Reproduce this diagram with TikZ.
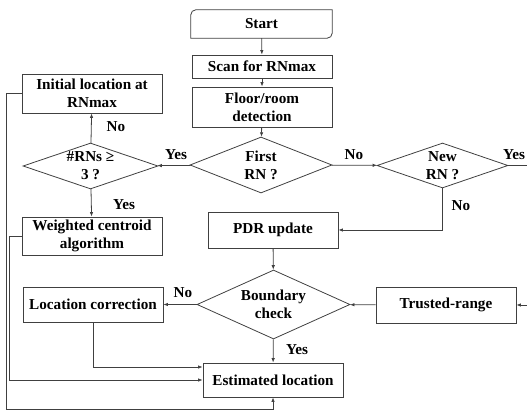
\documentclass[tikz,border=0pt]{standalone}
\usepackage{fontspec}
\setmainfont{Liberation Serif}
\usetikzlibrary{arrows.meta,shapes.geometric}

\begin{document}
\begin{tikzpicture}
	[x=1pt,y=-1pt,
	font=\fontsize{15.2}{18}\selectfont\bfseries,
	every node/.style={align=center,inner sep=0pt},
	line/.style={draw=black!75,line width=.8pt},
	box/.style={line,minimum width=140pt},
	dec/.style={line,diamond,aspect=2.5},
	arr/.style={line,-{Latex[length=4.5pt,width=3.5pt]}}]
	\useasboundingbox (0,0) rectangle (527,411);
	\node[minimum width=141pt,minimum height=28pt] (start) at (261.5,24) {Start};
	\node[box,minimum height=23pt] (scan) at (262,66.5) {Scan for RNmax};
	\node[box,minimum height=40pt] (floor) at (262,107) {Floor/room\\detection};
	\node[dec,minimum width=142pt,minimum height=56pt] (first) at (261,165) {First\\RN ?};
	\node[dec,minimum width=131pt,minimum height=45pt] (newrn) at (442.5,165.5) {New\\RN ?};
	\node[dec,minimum width=135pt,minimum height=46pt,aspect=3] (rns) at (90.5,166) {\#RNs ≥\\3 ?};
	\node[box,minimum height=39pt] (init) at (92,93.5) {Initial location at\\RNmax};
	\node[box,minimum height=38pt] (wcent) at (92,236) {Weighted centroid\\algorithm};
	\node[box,minimum width=130pt,minimum height=36pt] (pdr) at (273,230) {PDR update};
	\node[dec,minimum width=153pt,minimum height=69pt] (bound) at (273.5,304.5) {Boundary\\check};
	\node[box,minimum height=35pt] (loccor) at (93,304.5) {Location correction};
	\node[box,minimum height=36pt] (trust) at (446,305) {Trusted-range};
	\node[box,minimum height=34pt] (est) at (273,380) {Estimated location};
	
	% start box: two rounded corners
	\draw[line] (start.north) -- (start.north east) [rounded corners=5pt] -- (start.south east) [sharp corners] -- (start.south west) [rounded corners=5pt] -- (start.north west) [sharp corners] -- (start.north);
	
	\coordinate (yesend) at (527,165.5);
	\coordinate (trin) at (527,305);
	\coordinate (lw) at (9,380);
	\coordinate (lb) at (6,409.5);
	
	\foreach \from/\to in {start/scan,scan/floor,floor/first,first/rns,first/newrn,rns/init,rns/wcent,pdr/bound,trust/bound,bound/loccor,bound/est,trin/trust}
	\draw[arr] (\from) -- (\to);
	\draw[line] (newrn) -- (yesend);
	\draw[arr] (newrn.south) |- (pdr.east);
	\draw[arr] (loccor.south) |- ([yshift=13pt]est.west);
	\draw[arr] (wcent.west) -| (lw) -- (est.west);
	\draw[arr] (init.west) -| (lb) -| (est.south);
	
	\node (lyes1) at (176,155) {Yes};
	\node (lno1) at (354,155) {No};
	\node (lyes2) at (514,155) {Yes};
	\node (lno2) at (461,206) {No};
	\node (lno3) at (116,127) {No};
	\node (lyes3) at (124,205) {Yes};
	\node (lno4) at (183,293) {No};
	\node (lyes4) at (297,350) {Yes};
	\end{tikzpicture}
\end{document}
